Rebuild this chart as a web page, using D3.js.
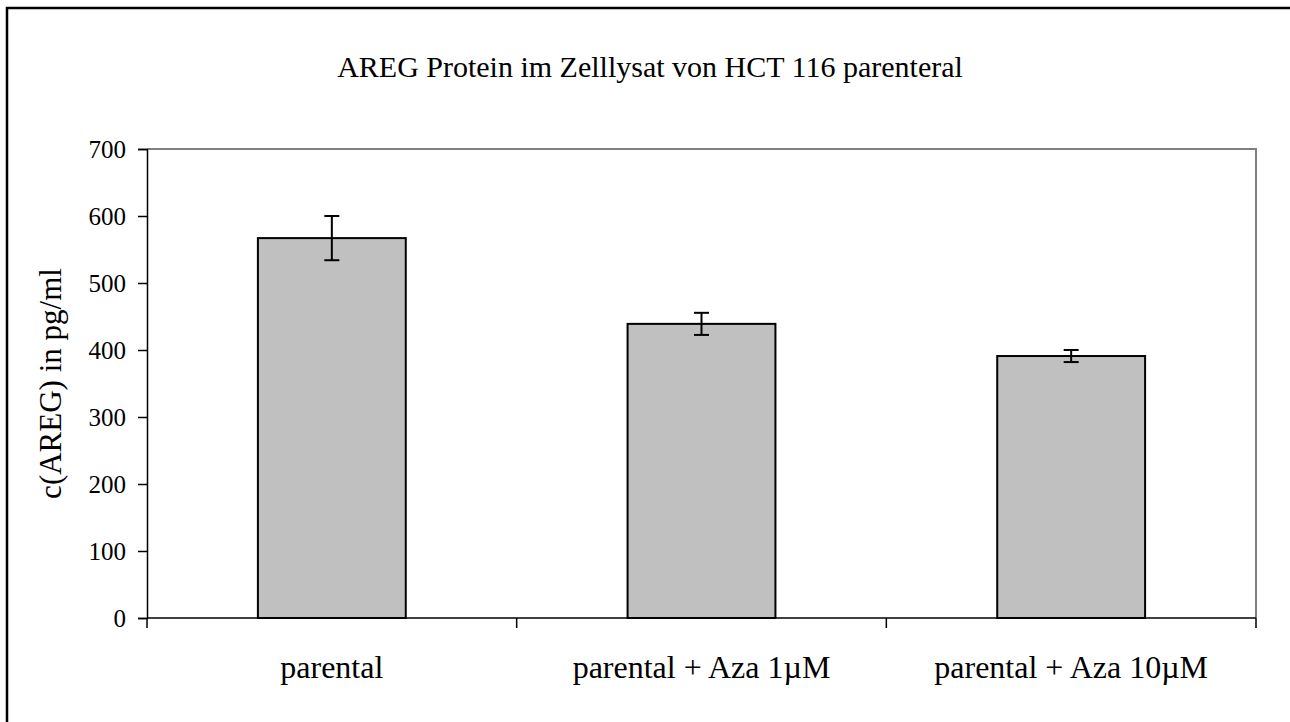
<!DOCTYPE html>
<html>
<head>
<meta charset="utf-8">
<script src="https://cdn.jsdelivr.net/npm/d3@7/dist/d3.min.js"></script>
<style>
  body { margin: 0; background: #fff; }
  svg { display: block; }
  text { font-family: "Liberation Serif", "Times New Roman", serif; fill: #000; }
</style>
</head>
<body>
<svg width="1290" height="722"></svg>
<script>
const categories = ["parental", "parental + Aza 1\u00b5M", "parental + Aza 10\u00b5M"];
const values = [567, 439, 391];
const errors = [33, 16.5, 9];
const yTicks = [0, 100, 200, 300, 400, 500, 600, 700];
const title = "AREG Protein im Zelllysat von HCT 116 parenteral";
const yLabel = "c(AREG) in pg/ml";

const serif = "Liberation Serif";
const svg = d3.select("svg");
const plot = { left: 147, right: 1256, top: 149, bottom: 618 };

// outer frame (cut off on the right and bottom)
svg.append("rect")
    .attr("x", 7).attr("y", 8)
    .attr("width", 1400).attr("height", 800)
    .attr("fill", "none")
    .attr("stroke", "#000")
    .attr("stroke-width", 2.5);

const x = d3.scaleBand()
    .domain(categories)
    .range([plot.left, plot.right])
    .paddingInner(0.6)
    .paddingOuter(0.3);

const y = d3.scaleLinear()
    .domain([0, 700])
    .range([plot.bottom, plot.top]);

// grey plot border top and right
svg.append("path")
    .attr("d", `M${plot.left},${plot.top}H${plot.right}V${plot.bottom}`)
    .attr("fill", "none")
    .attr("stroke", "#808080")
    .attr("stroke-width", 2);

// bars
svg.append("g")
    .selectAll("rect")
    .data(values)
    .join("rect")
    .attr("x", (d, i) => x(categories[i]))
    .attr("y", d => y(d))
    .attr("width", x.bandwidth())
    .attr("height", d => y(0) - y(d))
    .attr("fill", "#c0c0c0")
    .attr("stroke", "#000")
    .attr("stroke-width", 2);

// error bars
const eb = svg.append("g")
    .selectAll("g")
    .data(values)
    .join("g")
    .attr("stroke", "#000")
    .attr("stroke-width", 2);
const cx = i => x(categories[i]) + x.bandwidth() / 2;
eb.append("line")
    .attr("x1", (d, i) => cx(i)).attr("x2", (d, i) => cx(i))
    .attr("y1", (d, i) => y(d + errors[i])).attr("y2", (d, i) => y(d - errors[i]));
eb.append("line")
    .attr("x1", (d, i) => cx(i) - 7.5).attr("x2", (d, i) => cx(i) + 7.5)
    .attr("y1", (d, i) => y(d + errors[i])).attr("y2", (d, i) => y(d + errors[i]));
eb.append("line")
    .attr("x1", (d, i) => cx(i) - 7.5).attr("x2", (d, i) => cx(i) + 7.5)
    .attr("y1", (d, i) => y(d - errors[i])).attr("y2", (d, i) => y(d - errors[i]));

// y axis
const yAxis = svg.append("g")
    .attr("transform", `translate(${plot.left},0)`)
    .call(d3.axisLeft(y).tickValues(yTicks).tickSize(9).tickPadding(12));
yAxis.select(".domain").attr("stroke", "#000").attr("stroke-width", 1.5);
yAxis.selectAll(".tick line").attr("stroke", "#000").attr("stroke-width", 1.5);
yAxis.selectAll(".tick text")
    .attr("font-family", serif)
    .attr("font-size", 25)
    .attr("fill", "#000");

// x axis: ticks at band boundaries
const xBounds = d3.range(categories.length + 1).map(i => plot.left + i * (plot.right - plot.left) / categories.length);
const xa = svg.append("g");
xa.append("line")
    .attr("x1", plot.left).attr("x2", plot.right)
    .attr("y1", plot.bottom).attr("y2", plot.bottom)
    .attr("stroke", "#000").attr("stroke-width", 1.5);
xa.selectAll(".tk")
    .data(xBounds)
    .join("line")
    .attr("x1", d => d).attr("x2", d => d)
    .attr("y1", plot.bottom).attr("y2", plot.bottom + 10)
    .attr("stroke", "#000").attr("stroke-width", 1.5);
xa.selectAll("text")
    .data(categories)
    .join("text")
    .attr("x", d => x(d) + x.bandwidth() / 2)
    .attr("y", 678)
    .attr("text-anchor", "middle")
    .attr("font-family", serif)
    .attr("font-size", 32)
    .text(d => d);

// title
svg.append("text")
    .attr("x", 650)
    .attr("y", 77)
    .attr("text-anchor", "middle")
    .attr("font-family", serif)
    .attr("font-size", 30)
    .text(title);

// y label
svg.append("text")
    .attr("transform", `translate(61,${(plot.top + plot.bottom) / 2}) rotate(-90)`)
    .attr("text-anchor", "middle")
    .attr("font-family", serif)
    .attr("font-size", 31)
    .text(yLabel);
</script>
</body>
</html>
